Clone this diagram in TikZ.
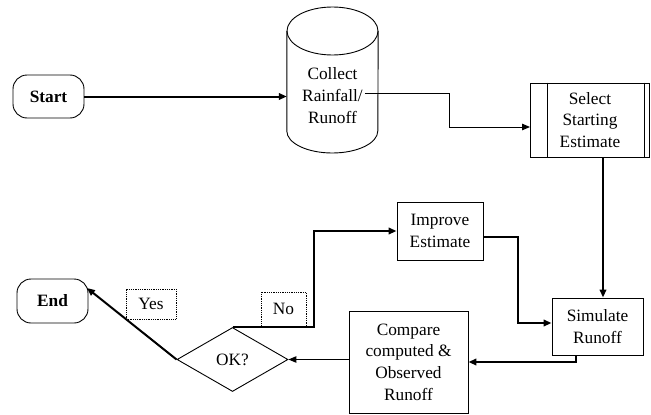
\documentclass[tikz,border=0pt]{standalone}
\usepackage{fontspec}
\setmainfont{Liberation Serif}
\usetikzlibrary{arrows.meta,shapes.geometric}

\begin{document}
\begin{tikzpicture}[x=1pt,y=-1pt,
  txt/.style={font=\fontsize{17.3}{21.6}\selectfont, align=center},
  box/.style={draw, line width=0.9pt, txt, inner sep=0pt},
  term/.style={box, rounded corners=14pt, font=\fontsize{17.3}{20}\selectfont\bfseries},
  tag/.style={draw, densely dotted, line width=0.8pt, txt, inner sep=0pt},
  decide/.style={draw, diamond, line width=0.9pt, txt, inner sep=0pt, aspect=1.73},
  thinarrow/.style={line width=1pt, -{Triangle[length=8pt,width=6.5pt]}},
  thickarrow/.style={line width=2pt, -{Triangle[length=8pt,width=6.5pt]}},
]
\useasboundingbox (0,0) rectangle (651,415);

% terminals
\node[term, minimum width=71pt, minimum height=43pt] (start) at (48.5,96.5) {Start};
\node[term, minimum width=71pt, minimum height=44pt] (end) at (52.5,301) {End};

% data store drawn as a cylinder
\node[inner sep=0pt, minimum width=91pt, minimum height=146pt] (coll) at (332.5,80) {};
\draw[line width=0.9pt] (coll.west |- 0,31) -- (coll.west |- 0,131)
  arc[start angle=180, end angle=360, x radius=45.5pt, y radius=22pt]
  -- (coll.east |- 0,31);
\draw[line width=0.9pt] (332.5,31) ellipse [x radius=45.5pt, y radius=24pt];
\node[txt, inner sep=0pt] (colltxt) at (332.5,95.5) {Collect\\Rainfall/\\Runoff};

% predefined process
\node[box, minimum width=119pt, minimum height=74pt] (select) at (590,120) {Select\\Starting\\Estimate};
\draw[line width=0.9pt] ([xshift=17pt]select.north west) -- ([xshift=17pt]select.south west);
\draw[line width=0.9pt] ([xshift=-6pt]select.north east) -- ([xshift=-6pt]select.south east);

% processes
\node[box, minimum width=91pt, minimum height=57pt] (simulate) at (597.5,326.5) {Simulate\\Runoff};
\node[box, minimum width=119pt, minimum height=102pt] (compare) at (408.5,362) {Compare\\computed \&\\Observed\\Runoff};
\node[box, minimum width=86pt, minimum height=58pt] (improve) at (440,231) {Improve\\Estimate};

% decision
\node[decide, minimum width=111pt, minimum height=64pt] (ok) at (232.5,359.5) {OK?};

% branch labels
\node[tag, minimum width=50pt, minimum height=30pt] (yes) at (151,304) {Yes};
\node[tag, minimum width=45pt, minimum height=34pt] (no) at (283.5,309) {No};

% connectors
\draw[thickarrow] (start.east) -- (start -| coll.west);
\draw[thinarrow] ([shift={(2,-2.5)}]colltxt.east) -| (449,127) -- ([yshift=-7pt]select.west);
\draw[thickarrow] ([xshift=13pt]select.south) -- ([xshift=13pt]select.south |- simulate.north);
\draw[thickarrow] ([xshift=-21.5pt]simulate.south) |- (compare.east);
\draw[thinarrow] (compare.west |- ok.east) -- (ok.east);
\draw[thickarrow] (ok.west) -- ([shift={(-1.5,-13)}]end.east);
\draw[thickarrow] (ok.north) -- ++(81,0) |- (improve.west);
\draw[thickarrow] ([yshift=-6pt]improve.east) -- ++(35,0) |- ([yshift=3.5pt]simulate.west);
\end{tikzpicture}
\end{document}
